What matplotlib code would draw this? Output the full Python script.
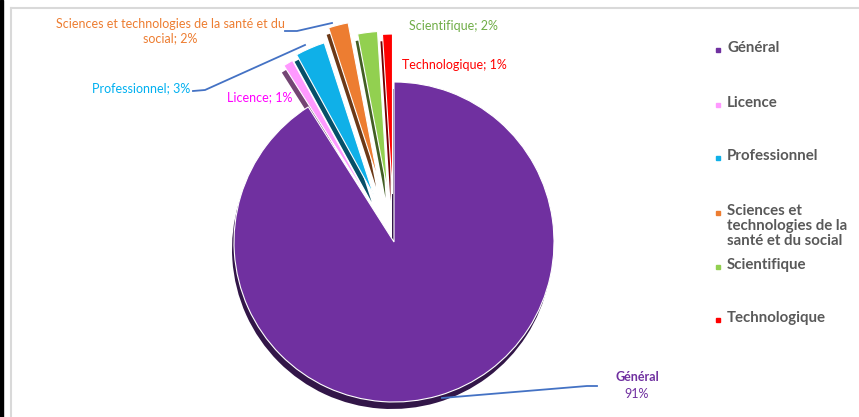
import numpy as np
import matplotlib.pyplot as plt
import matplotlib.colors as mcolors
from matplotlib.patches import Rectangle

plt.rcParams['font.family'] = ['Lato', 'DejaVu Sans']

LABELS = ['Général', 'Licence', 'Professionnel',
          'Sciences et technologies de la santé et du social',
          'Scientifique', 'Technologique']
SHARES = [91, 1, 3, 2, 2, 1]

COLORS = ['#7030A0', '#FF99FF', '#0FB0E8', '#ED7D31', '#92D050', '#FF0000']
LABEL_COLORS = ['#7030A0', '#FF00FF', '#00B0F0', '#ED7D31', '#70AD47', '#FF0000']
EXPLODE = [0.0, 0.3, 0.32, 0.4, 0.32, 0.3]  # fraction of radius

W, H = 859, 417
fig = plt.figure(figsize=(W / 100, H / 100), dpi=100)
ax = fig.add_axes([0, 0, 1, 1])


def py(y):
    # pixel row (from top) -> data y
    return H - y


cx, cy, r = 394, py(242), 160
expl = [e * r for e in EXPLODE]

# 3D depth: darker copy pushed down a little
dark = [tuple(c * 0.45 for c in mcolors.to_rgb(col)) for col in COLORS]
ax.pie(SHARES, explode=expl, colors=dark, startangle=90, counterclock=False,
       center=(cx - 2, cy - 7), radius=r, frame=True,
       wedgeprops=dict(edgecolor='none'))
ax.pie(SHARES, explode=expl, colors=COLORS, startangle=90, counterclock=False,
       center=(cx, cy), radius=r, frame=True,
       wedgeprops=dict(edgecolor='white', linewidth=0.8))

# data labels
fs = 9
pct = ['{}%'.format(v) for v in SHARES]
ax.text(170, py(31), 'Sciences et technologies de la santé et du\nsocial; ' + pct[3],
        color=LABEL_COLORS[3], fontsize=fs, ha='center', va='center',
        multialignment='center', linespacing=1.2)
ax.text(190, py(88), LABELS[2] + '; ' + pct[2], color=LABEL_COLORS[2],
        fontsize=fs, ha='right', va='center')
ax.text(260, py(97), LABELS[1] + '; ' + pct[1], color=LABEL_COLORS[1],
        fontsize=fs, ha='center', va='center')
ax.text(453, py(26), LABELS[4] + '; ' + pct[4], color=LABEL_COLORS[4],
        fontsize=fs, ha='center', va='center')
ax.text(454, py(65), LABELS[5] + '; ' + pct[5], color=LABEL_COLORS[5],
        fontsize=fs, ha='center', va='center')
ax.text(637, py(377), LABELS[0], color=LABEL_COLORS[0], fontsize=fs,
        fontweight='bold', ha='center', va='center')
ax.text(637, py(394), pct[0], color=LABEL_COLORS[0], fontsize=fs,
        ha='center', va='center')

# leader lines
lc = '#4472C4'
ax.plot([285, 297, 332], [py(31), py(31), py(23)], color=lc, lw=1.3)
ax.plot([193, 205, 305], [py(91), py(90), py(45)], color=lc, lw=1.3)
ax.plot([442, 587, 597], [py(398), py(386), py(386)], color=lc, lw=1.3)

# legend
leg_labels = ['Général', 'Licence', 'Professionnel',
              'Sciences et\ntechnologies de la\nsanté et du social',
              'Scientifique', 'Technologique']
leg_y = [50, 105, 158, 213, 267, 320]
for lab, col, y in zip(leg_labels, COLORS, leg_y):
    ax.add_patch(Rectangle((716, py(y) - 2), 4, 4, color=col))
    ax.text(727, py(y) + 9, lab, color='#595959', fontsize=10.8,
            fontweight='bold', ha='left', va='top', linespacing=1.1)

# chart border and left strip
ax.plot([10.5, 10.5], [0, py(7.5)], color='#D9D9D9', lw=1.5)
ax.plot([10.5, W], [py(7.5), py(7.5)], color='#D9D9D9', lw=1.5)
ax.add_patch(Rectangle((0, 0), 2.5, H, color='black'))

ax.set_xlim(0, W)
ax.set_ylim(0, H)
ax.set_aspect('equal')
ax.axis('off')

fig.savefig('out.png', dpi=100)
